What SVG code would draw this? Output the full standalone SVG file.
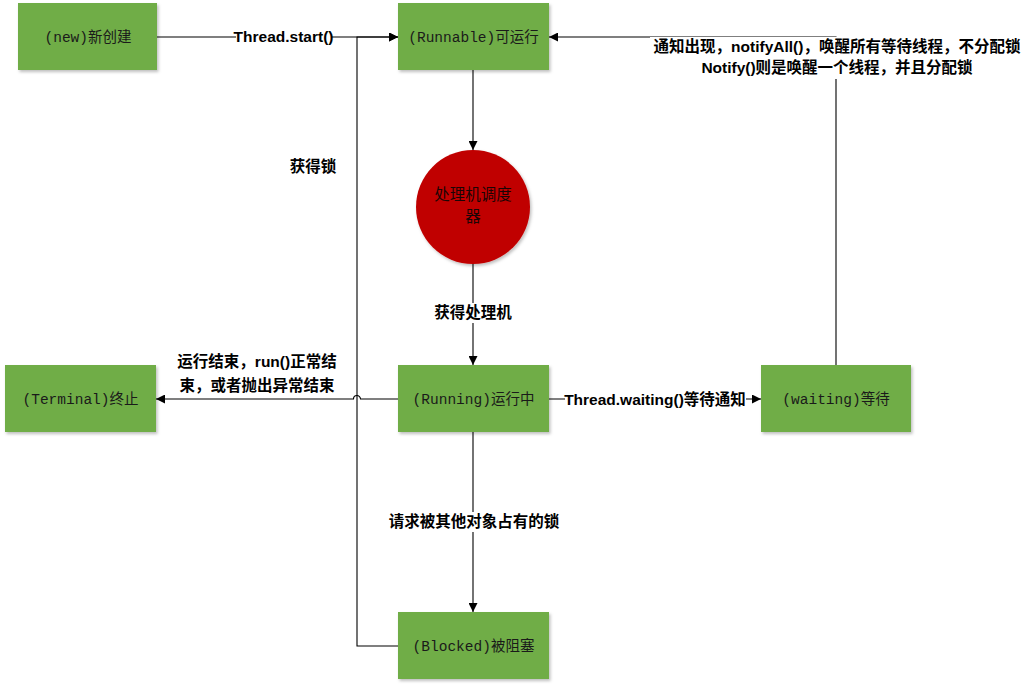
<svg xmlns="http://www.w3.org/2000/svg" width="1031" height="688" viewBox="0 0 1031 688">
  <style>
    .node { fill: #70AD47; filter: url(#shadow); }
    .ntext { font-family: "Liberation Mono", "Noto Sans CJK SC", monospace; font-size: 14.5px; fill: #1a1a1a; text-anchor: middle; }
    .ctext { font-family: "Liberation Sans", "Noto Sans CJK SC", sans-serif; font-size: 15.5px; fill: #1a0505; text-anchor: middle; }
    .edge { fill: none; stroke: #000; stroke-width: 1.1; }
    .lbl { font-family: "Liberation Sans", "Noto Sans CJK SC", sans-serif; font-size: 15.5px; font-weight: bold; fill: #000; text-anchor: middle; }
    .lblbg { fill: #fff; }
  </style>
  <defs>
    <filter id="shadow" x="-10%" y="-10%" width="125%" height="130%">
      <feDropShadow dx="1.5" dy="2" stdDeviation="1.5" flood-color="#000" flood-opacity="0.25"/>
    </filter>
    <marker id="arrow" viewBox="0 0 10 10" refX="10" refY="5" markerWidth="9" markerHeight="9" markerUnits="userSpaceOnUse" orient="auto">
      <path d="M0,0 L10,5 L0,10 Z" fill="#000"/>
    </marker>
  </defs>

  <rect width="1031" height="688" fill="#fff"/>

  <!-- connectors -->
  <g id="connectors">
    <!-- new -> Runnable -->
    <path class="edge" d="M157,37 H398" marker-end="url(#arrow)"/>
    <!-- Runnable -> scheduler -->
    <path class="edge" d="M473,70 V150" marker-end="url(#arrow)"/>
    <!-- scheduler -> Running -->
    <path class="edge" d="M473,264 V365" marker-end="url(#arrow)"/>
    <!-- Running -> Terminal, hopping over the lock line -->
    <path class="edge" d="M398,399 H360.5 A3.5,3.5 0 0 0 353.5,399 H156" marker-end="url(#arrow)"/>
    <!-- Running -> waiting -->
    <path class="edge" d="M549,399 H761" marker-end="url(#arrow)"/>
    <!-- waiting -> Runnable -->
    <path class="edge" d="M836,365 V37 H549" marker-end="url(#arrow)"/>
    <!-- Running -> Blocked -->
    <path class="edge" d="M473,432 V612" marker-end="url(#arrow)"/>
    <!-- Blocked -> Runnable (acquire lock) -->
    <path class="edge" d="M398,646 H357 V37 H398" marker-end="url(#arrow)"/>

    <!-- edge labels -->
    <rect class="lblbg" x="236" y="28" width="95" height="18"/>
    <text class="lbl" x="283.5" y="42">Thread.start()</text>

    <rect class="lblbg" x="650" y="37" width="376" height="42"/>
    <text class="lbl" x="837" y="52">通知出现，notifyAll()，唤醒所有等待线程，不分配锁</text>
    <text class="lbl" x="837" y="73">Notify()则是唤醒一个线程，并且分配锁</text>

    <text class="lbl" x="313" y="172">获得锁</text>

    <rect class="lblbg" x="431" y="303" width="84" height="20"/>
    <text class="lbl" x="473" y="318">获得处理机</text>

    <text class="lbl" x="257" y="367">运行结束，run()正常结</text>
    <text class="lbl" x="257" y="391">束，或者抛出异常结束</text>

    <rect class="lblbg" x="565" y="390" width="181" height="19"/>
    <text class="lbl" x="655" y="405">Thread.waiting()等待通知</text>

    <rect class="lblbg" x="384" y="512" width="180" height="20"/>
    <text class="lbl" x="474" y="527">请求被其他对象占有的锁</text>
  </g>

  <!-- nodes -->
  <g id="node-new">
    <rect class="node" x="18" y="3" width="139" height="67"/>
    <text class="ntext" x="88" y="42">(new)新创建</text>
  </g>
  <g id="node-runnable">
    <rect class="node" x="398" y="3" width="151" height="67"/>
    <text class="ntext" x="473.5" y="42">(Runnable)可运行</text>
  </g>
  <g id="node-scheduler">
    <circle cx="473" cy="207" r="57" fill="#C00000" filter="url(#shadow)"/>
    <text class="ctext" x="473" y="200">处理机调度</text>
    <text class="ctext" x="473" y="222">器</text>
  </g>
  <g id="node-terminal">
    <rect class="node" x="5" y="365" width="151" height="67"/>
    <text class="ntext" x="80.5" y="404">(Terminal)终止</text>
  </g>
  <g id="node-running">
    <rect class="node" x="398" y="365" width="151" height="67"/>
    <text class="ntext" x="473.5" y="404">(Running)运行中</text>
  </g>
  <g id="node-waiting">
    <rect class="node" x="761" y="365" width="150" height="67"/>
    <text class="ntext" x="836" y="404">(waiting)等待</text>
  </g>
  <g id="node-blocked">
    <rect class="node" x="398" y="612" width="151" height="67"/>
    <text class="ntext" x="473.5" y="651">(Blocked)被阻塞</text>
  </g>
</svg>
